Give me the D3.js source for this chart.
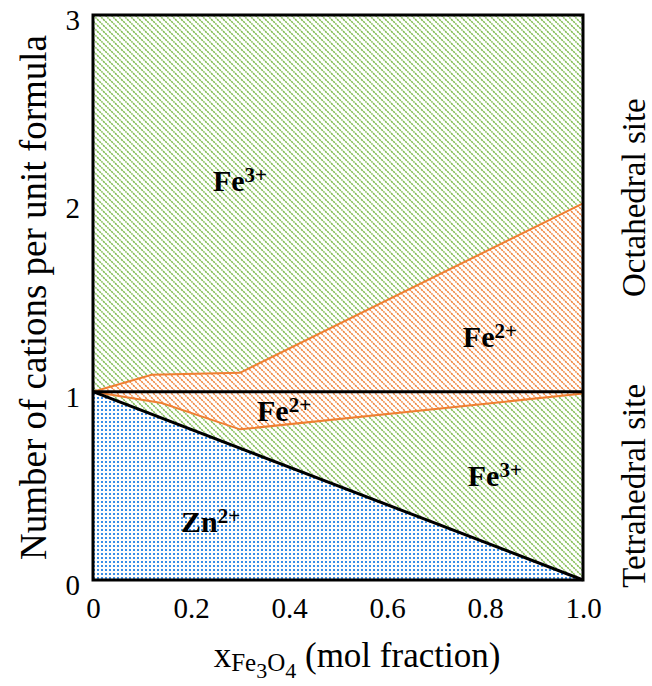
<!DOCTYPE html>
<html>
<head>
<meta charset="utf-8">
<script src="https://cdn.jsdelivr.net/npm/d3@7"></script>
<style>
  html, body { margin: 0; padding: 0; background: #fff; }
  svg { display: block; font-family: "Liberation Serif", "Times New Roman", serif; }
</style>
</head>
<body>
<svg id="chart" width="652" height="686"></svg>
<script>
// Cation distribution in Zn(1-x)Fe(x)Fe2O4 across tetrahedral and octahedral sites

// x positions along the composition axis
const xTickValues = [0, 0.2, 0.4, 0.6, 0.8, 1.0];
const xTickLabels = ["0", "0.2", "0.4", "0.6", "0.8", "1.0"];
const yTickValues = [0, 1, 2, 3];
const yTickLabels = ["0", "1", "2", "3"];

// Tetrahedral site capacity and full formula total
const siteBoundary = 1;
const totalCations = 3;

// Upper edge of the Zn2+ area (tetrahedral Zn content)
const znEdge = [[0, 1], [1, 0]];

// Cumulative boundaries of the Fe2+ band
const fe2Upper = [[0, 1], [0.12, 1.09], [0.3, 1.10], [1.0, 2.0]];   // octahedral side
const fe2Lower = [[0, 1], [0.14, 0.94], [0.3, 0.80], [1.0, 0.99]];  // tetrahedral side

// Ion labels: [text, superscript, x, y]
const ionLabels = [
  ["Fe", "3+", 0.30, 2.12],
  ["Fe", "2+", 0.81, 1.29],
  ["Fe", "2+", 0.39, 0.90],
  ["Fe", "3+", 0.82, 0.55],
  ["Zn", "2+", 0.24, 0.31]
];

const siteLabels = [
  ["Octahedral site", 2.03],
  ["Tetrahedral site", 0.5]
];

const colors = {
  green: "#7cba4a",
  orange: "#ef7f32",
  blue: "#3a8ee6"
};

const svg = d3.select("#chart");
const x = d3.scaleLinear().domain([0, 1]).range([93, 583]);
const y = d3.scaleLinear().domain([0, totalCations]).range([580, 15]);

// Fill patterns
const defs = svg.append("defs");
function hatch(id, color) {
  const p = defs.append("pattern")
    .attr("id", id)
    .attr("patternUnits", "userSpaceOnUse")
    .attr("width", 6).attr("height", 6);
  p.append("rect").attr("width", 6).attr("height", 6).attr("fill", "#fff");
  p.append("path")
    .attr("d", "M-1,-1 L7,7 M-1,5 L1,7 M5,-1 L7,1")
    .attr("stroke", color)
    .attr("stroke-width", 1.5)
    .attr("stroke-dasharray", "2.2 0.8");
}
hatch("hatchGreen", colors.green);
hatch("hatchOrange", colors.orange);

const dots = defs.append("pattern")
  .attr("id", "dotsBlue")
  .attr("patternUnits", "userSpaceOnUse")
  .attr("width", 4).attr("height", 4);
dots.append("rect").attr("width", 4).attr("height", 4).attr("fill", "#fff");
dots.append("rect").attr("x", 1).attr("y", 1).attr("width", 2).attr("height", 2).attr("fill", colors.blue);

const line = d3.line().x(d => x(d[0])).y(d => y(d[1]));

// Octahedral Fe3+ (everything above the site boundary)
svg.append("path")
  .attr("d", line([[0, siteBoundary], [1, siteBoundary], [1, totalCations], [0, totalCations]]) + "Z")
  .attr("fill", "url(#hatchGreen)");

// Tetrahedral Fe3+ (between Zn edge and site boundary)
svg.append("path")
  .attr("d", line([...znEdge, [1, siteBoundary]]) + "Z")
  .attr("fill", "url(#hatchGreen)");

// Zn2+
svg.append("path")
  .attr("d", line([[0, 0], ...znEdge]) + "Z")
  .attr("fill", "url(#dotsBlue)");

// Fe2+ band
svg.append("path")
  .attr("d", line([...fe2Upper, ...fe2Lower.slice().reverse()]) + "Z")
  .attr("fill", "url(#hatchOrange)");

[fe2Upper, fe2Lower].forEach(b => {
  svg.append("path")
    .attr("d", line(b))
    .attr("fill", "none")
    .attr("stroke", colors.orange)
    .attr("stroke-width", 2);
});

// Site divider and Zn edge
svg.append("path")
  .attr("d", line([[0, siteBoundary], [1, siteBoundary]]))
  .attr("stroke", "#000").attr("stroke-width", 3).attr("fill", "none");
svg.append("path")
  .attr("d", line(znEdge))
  .attr("stroke", "#000").attr("stroke-width", 3).attr("fill", "none");

// Plot frame
svg.append("rect")
  .attr("x", x(0)).attr("y", y(totalCations))
  .attr("width", x(1) - x(0)).attr("height", y(0) - y(totalCations))
  .attr("fill", "none").attr("stroke", "#000").attr("stroke-width", 3);

// Axes
const xAxis = svg.append("g")
  .attr("transform", `translate(0,${y(0)})`)
  .call(d3.axisBottom(x).tickValues(xTickValues)
    .tickFormat((d, i) => xTickLabels[i]).tickSize(0).tickPadding(17));
xAxis.select(".domain").remove();
xAxis.selectAll("text").attr("font-size", 29).attr("font-family", "Liberation Serif").attr("fill", "#000");

const yAxis = svg.append("g")
  .attr("transform", `translate(${x(0)},0)`)
  .call(d3.axisLeft(y).tickValues(yTickValues)
    .tickFormat((d, i) => yTickLabels[i]).tickSize(0).tickPadding(13));
yAxis.select(".domain").remove();
yAxis.selectAll("text").attr("font-size", 29).attr("font-family", "Liberation Serif")
  .attr("fill", "#000").attr("dy", "0.5em");

// Ion labels
ionLabels.forEach(([t, sup, lx, ly]) => {
  const txt = svg.append("text")
    .attr("x", x(lx)).attr("y", y(ly) + 10)
    .attr("text-anchor", "middle")
    .attr("font-weight", "bold")
    .attr("font-size", 30);
  txt.append("tspan").text(t);
  txt.append("tspan").attr("font-size", 21).attr("dy", -9).text(sup);
});

// Site labels on the right
siteLabels.forEach(([t, v]) => {
  svg.append("text")
    .attr("transform", `translate(633,${y(v)}) rotate(-90)`)
    .attr("text-anchor", "middle")
    .attr("dy", "0.35em")
    .attr("font-size", 33)
    .text(t);
});

// Y axis title
svg.append("text")
  .attr("transform", `translate(33,${y(1.5)}) rotate(-90)`)
  .attr("text-anchor", "middle")
  .attr("dy", "0.35em")
  .attr("font-size", 37)
  .text("Number of cations per unit formula");

// X axis title with chemical subscripts
const xt = svg.append("text")
  .attr("x", 357).attr("y", 667)
  .attr("text-anchor", "middle")
  .attr("font-size", 35);
xt.append("tspan").text("x");
xt.append("tspan").attr("font-size", 25).attr("dy", 4).text("Fe");
xt.append("tspan").attr("font-size", 22).attr("dy", 7).text("3");
xt.append("tspan").attr("font-size", 25).attr("dy", -7).text("O");
xt.append("tspan").attr("font-size", 22).attr("dy", 7).text("4");
xt.append("tspan").attr("dy", -11).text(" (mol fraction)");
</script>
</body>
</html>
